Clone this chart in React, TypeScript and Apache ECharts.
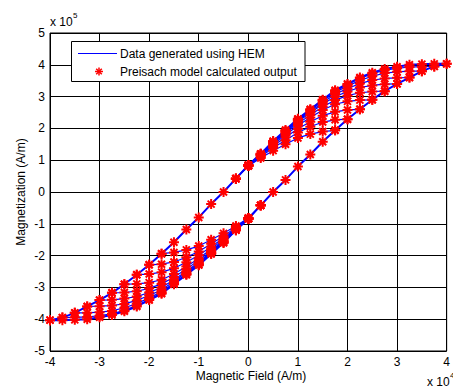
import React, { useEffect, useRef } from "react";
import * as echarts from "echarts";

// Magnetic field grid (x 10^4 A/m)
const fieldGrid = [-4, -3.75, -3.5, -3.25, -3, -2.75, -2.5, -2.25, -2, -1.75, -1.5, -1.25, -1, -0.75, -0.5, -0.25, 0, 0.25, 0.5, 0.75, 1, 1.25, 1.5, 1.75, 2, 2.25, 2.5, 2.75, 3, 3.25, 3.5, 3.75, 4];

// Major loop branches (x 10^5 A/m), one value per fieldGrid entry
const descendingMajor = [-4.03, -3.95, -3.8, -3.6, -3.4, -3.17, -2.9, -2.6, -2.29, -1.94, -1.58, -1.18, -0.8, -0.38, 0.0, 0.42, 0.84, 1.2, 1.6, 1.95, 2.3, 2.6, 2.9, 3.2, 3.4, 3.6, 3.75, 3.87, 3.94, 4.0, 4.02, 4.03, 4.03];
const ascendingMajor = [-4.03, -4.03, -4.02, -4.0, -3.94, -3.87, -3.75, -3.6, -3.4, -3.2, -2.9, -2.6, -2.3, -1.95, -1.6, -1.2, -0.84, -0.42, 0.0, 0.38, 0.8, 1.18, 1.58, 1.94, 2.29, 2.6, 2.9, 3.17, 3.4, 3.6, 3.8, 3.95, 4.03];

// Reversal curves leaving the descending branch (field increasing from the start point)
const lowerStarts = [-1.75, -2, -2.25, -2.5, -2.75, -3, -3.25, -3.5, -3.75];
const lowR175 = [-1.94, -1.9, -1.82, -1.7, -1.5, -1.3, -1.07, -0.82, -0.42];
const lowR200 = [-2.29, -2.27, -2.2, -2.05, -1.87, -1.63, -1.39, -1.11, -0.82, -0.42];
const lowR225 = [-2.6, -2.58, -2.52, -2.4, -2.21, -1.99, -1.72, -1.45, -1.14, -0.83, -0.42];
const lowR250 = [-2.9, -2.89, -2.85, -2.76, -2.58, -2.34, -2.09, -1.79, -1.49, -1.16, -0.83, -0.42];
const lowR275 = [-3.17, -3.16, -3.12, -3.03, -2.89, -2.68, -2.42, -2.15, -1.85, -1.53, -1.17, -0.84, -0.42];
const lowR300 = [-3.4, -3.39, -3.35, -3.29, -3.16, -3.0, -2.76, -2.49, -2.21, -1.88, -1.55, -1.18, -0.84];
const lowR325 = [-3.6, -3.59, -3.57, -3.52, -3.41, -3.25, -3.08, -2.81, -2.53, -2.24, -1.91, -1.57, -1.19, -0.84];
const lowR350 = [-3.8, -3.8, -3.78, -3.74, -3.64, -3.51, -3.33, -3.14, -2.86, -2.57, -2.27, -1.93, -1.59, -1.2, -0.84];
const lowR375 = [-3.95, -3.94, -3.93, -3.89, -3.83, -3.72, -3.57, -3.38, -3.18, -2.89, -2.59, -2.29];

// Reversal curves leaving the ascending branch (field decreasing from the start point)
const upperStarts = [1.75, 2, 2.25, 2.5, 2.75, 3, 3.25, 3.5, 3.75];
const upR175 = [1.94, 1.9, 1.82, 1.7, 1.5, 1.3, 1.07, 0.82, 0.42];
const upR200 = [2.29, 2.27, 2.2, 2.05, 1.87, 1.63, 1.39, 1.11, 0.82, 0.42];
const upR225 = [2.6, 2.58, 2.52, 2.4, 2.21, 1.99, 1.72, 1.45, 1.14, 0.83, 0.42];
const upR250 = [2.9, 2.89, 2.85, 2.76, 2.58, 2.34, 2.09, 1.79, 1.49, 1.16, 0.83, 0.42];
const upR275 = [3.17, 3.16, 3.12, 3.03, 2.89, 2.68, 2.42, 2.15, 1.85, 1.53, 1.17, 0.84, 0.42];
const upR300 = [3.4, 3.39, 3.35, 3.29, 3.16, 3.0, 2.76, 2.49, 2.21, 1.88, 1.55, 1.18, 0.84];
const upR325 = [3.6, 3.59, 3.57, 3.52, 3.41, 3.25, 3.08, 2.81, 2.53, 2.24, 1.91, 1.57, 1.19, 0.84];
const upR350 = [3.8, 3.8, 3.78, 3.74, 3.64, 3.51, 3.33, 3.14, 2.86, 2.57, 2.27, 1.93, 1.59, 1.2, 0.84];
const upR375 = [3.95, 3.94, 3.93, 3.89, 3.83, 3.72, 3.57, 3.38, 3.18, 2.89, 2.59, 2.29];

const lowerCurves = [lowR175, lowR200, lowR225, lowR250, lowR275, lowR300, lowR325, lowR350, lowR375];
const upperCurves = [upR175, upR200, upR225, upR250, upR275, upR300, upR325, upR350, upR375];

const legendLabels = ["Data generated using HEM", "Preisach model calculated output"];
const xAxisTitle = "Magnetic Field (A/m)";
const yAxisTitle = "Magnetization (A/m)";

const FONT = '"Liberation Sans", Arial, Helvetica, sans-serif';
const BLUE = "#0000ff";
const RED = "#ff0000";
const STAR = "path://M5,0L5,10M0,5L10,5M1.5,1.5L8.5,8.5M8.5,1.5L1.5,8.5";

function curvePoints(start: number, dir: number, values: number[]) {
  const i0 = fieldGrid.indexOf(start);
  return values.map((v, i) => [fieldGrid[i0 + dir * i], v]);
}

export default function App() {
  const ref = useRef<HTMLDivElement>(null);
  useEffect(() => {
    if (!ref.current) return;
    const chart = echarts.init(ref.current, undefined, { renderer: "svg" });

    const majors: number[][][] = [
      fieldGrid.map((x, i) => [x, ascendingMajor[i]]),
      fieldGrid.map((x, i) => [x, descendingMajor[i]]).reverse(),
    ];
    const minors: number[][][] = [];
    lowerCurves.forEach((c, k) => minors.push(curvePoints(lowerStarts[k], 1, c)));
    upperCurves.forEach((c, k) => minors.push(curvePoints(upperStarts[k], -1, c)));

    const mkLine = (pts: number[][], w: number) => ({
      type: "line",
      data: pts,
      symbol: "none",
      silent: true,
      clip: false,
      lineStyle: { color: BLUE, width: w },
      z: 2,
    });
    const lineSeries = [...minors.map((p) => mkLine(p, 1.2)), ...majors.map((p) => mkLine(p, 2))];
    const allPts: number[][] = [];
    [...majors, ...minors].forEach((c) => c.forEach((p) => allPts.push(p)));

    const starLines = (cx: number, cy: number, r: number) => [
      { type: "line", shape: { x1: cx - r, y1: cy, x2: cx + r, y2: cy } },
      { type: "line", shape: { x1: cx, y1: cy - r, x2: cx, y2: cy + r } },
      { type: "line", shape: { x1: cx - r * 0.7, y1: cy - r * 0.7, x2: cx + r * 0.7, y2: cy + r * 0.7 } },
      { type: "line", shape: { x1: cx + r * 0.7, y1: cy - r * 0.7, x2: cx - r * 0.7, y2: cy + r * 0.7 } },
    ].map((e) => ({ ...e, z: 101, style: { stroke: RED, lineWidth: 1.5 } }));

    const txt = (x: number, y: number, text: string, size: number, extra: any = {}) => ({
      type: "text",
      x,
      y,
      z: 101,
      style: { text, font: `${size}px ${FONT}`, fill: "#000", verticalAlign: "middle", ...extra },
    });

    chart.setOption({
      animation: false,
      textStyle: { fontFamily: FONT },
      grid: { left: 50, right: 1, top: 33, bottom: 37, show: true, borderColor: "#000", borderWidth: 1, backgroundColor: "transparent" },
      xAxis: {
        type: "value",
        min: -4,
        max: 4,
        interval: 1,
        axisLine: { show: false },
        axisTick: { show: false },
        splitLine: { show: true, lineStyle: { color: "#000", width: 1 } },
        axisLabel: { color: "#000", fontSize: 12, margin: 5, fontFamily: FONT },
      },
      yAxis: {
        type: "value",
        min: -5,
        max: 5,
        interval: 1,
        axisLine: { show: false },
        axisTick: { show: false },
        splitLine: { show: true, lineStyle: { color: "#000", width: 1 } },
        axisLabel: { color: "#000", fontSize: 12, margin: 5, fontFamily: FONT },
      },
      series: [
        ...lineSeries,
        {
          type: "scatter",
          data: allPts,
          symbol: STAR,
          symbolSize: 10,
          clip: false,
          silent: true,
          itemStyle: { color: RED, borderColor: RED, borderWidth: 2, opacity: 1 },
          z: 3,
        },
      ],
      graphic: [
        { type: "rect", z: 100, shape: { x: 71.5, y: 41.5, width: 233.5, height: 40 }, style: { fill: "#fff", stroke: "#000", lineWidth: 1 } },
        { type: "line", z: 101, shape: { x1: 78, y1: 53.5, x2: 117, y2: 53.5 }, style: { stroke: BLUE, lineWidth: 1 } },
        txt(120, 53.5, legendLabels[0], 12),
        ...starLines(99, 71.5, 4),
        txt(120, 71.5, legendLabels[1], 12),
        txt(50, 22, "x 10", 12),
        txt(73, 15, "5", 8),
        txt(427, 382, "x 10", 12),
        txt(450, 375, "4", 8),
        txt(251, 376, xAxisTitle, 12, { align: "center" }),
        { type: "text", x: 21, y: 192, rotation: Math.PI / 2, z: 101, style: { text: yAxisTitle, font: `12px ${FONT}`, fill: "#000", align: "center", verticalAlign: "middle" } },
      ],
    });
    return () => chart.dispose();
  }, []);
  return <div ref={ref} style={{ position: "absolute", left: 0, top: 0, width: 453, height: 388 }} />;
}
